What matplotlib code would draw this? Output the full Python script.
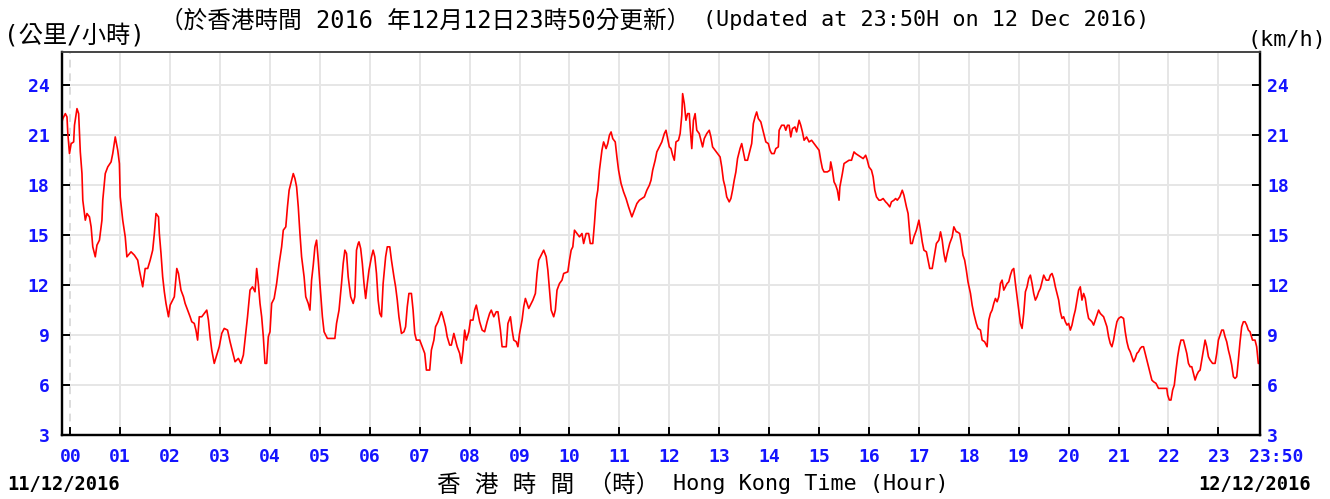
import matplotlib
matplotlib.use('Agg')
import matplotlib.pyplot as plt
import matplotlib.transforms as mtransforms

# wind speed trace, minutes after 00:00 on 12/12/2016 (km/h)
minutes = [
    -10, -9, -6, -4, -3, -1, 1, 4, 5, 8, 10, 12, 14, 15, 18, 20, 23, 25, 27, 30,
    32, 35, 38, 39, 42, 45, 49, 51, 54, 57, 59, 60, 63, 66, 68, 73, 77, 81, 83, 87,
    90, 93, 96, 99, 101, 103, 106, 107, 109, 111, 113, 115, 118, 120, 123, 125, 128, 130, 133, 136,
    138, 141, 144, 146, 149, 151, 153, 155, 158, 161, 164, 166, 168, 170, 173, 176, 179, 182, 185, 189,
    192, 195, 198, 202, 205, 208, 210, 213, 216, 219, 222, 224, 226, 228, 230, 232, 234, 236, 238, 240,
    242, 245, 248, 251, 254, 256, 259, 261, 263, 266, 268, 270, 272, 274, 276, 278, 281, 283, 286, 288,
    290, 292, 294, 296, 298, 300, 303, 305, 309, 313, 318, 320, 323, 326, 328, 330, 332, 334, 337, 340,
    342, 344, 346,
    347, 349, 351, 353, 355, 357, 359, 362, 364, 366, 368, 370, 372, 374, 376, 379, 381, 384, 386, 389,
    391, 393, 395, 398, 401, 403, 405, 407, 410, 412, 414, 416, 420, 423, 426, 428, 432, 434, 437, 439,
    442, 444, 446, 448, 451, 453, 456, 458, 461, 463, 465, 468, 470, 472, 474, 476, 479, 481, 484, 486,
    488, 490, 492, 495, 498, 501, 504, 506, 509, 512, 514, 517, 519, 524, 526, 529, 531, 533, 536, 538,
    540, 543, 545, 547, 549, 551, 553, 556, 559, 561, 563, 566, 569, 572, 574, 576, 578, 581, 583, 585,
    588, 591, 593, 598, 600, 602, 604, 606, 609, 612, 615, 617, 620, 623, 625, 628, 630, 632, 634, 636,
    639, 641, 644, 646, 648, 650, 652, 655, 657, 659, 662, 665, 668, 671, 673, 675, 678, 681, 684, 687,
    690, 693, 696, 698, 700, 703, 705,
    708, 711, 714, 716, 718, 720, 722, 724, 726, 728, 731, 733, 735, 736, 738, 740, 742, 744, 745, 747,
    749, 751, 753, 756, 758, 760, 762, 765, 768, 770, 772, 775, 778, 781, 783, 785, 787, 789, 792, 794,
    796, 798, 800, 802, 805, 807, 809, 811, 814, 816, 819, 821, 823, 825, 827, 830, 833, 836, 839, 841,
    843, 846, 848, 851, 852, 855, 858, 860, 862, 864, 866, 868, 871, 873, 876, 878, 880, 882, 885, 888,
    891, 894, 897, 900, 902, 904, 906, 910, 913, 914, 916, 918, 920, 922, 924, 925, 928, 930, 933, 936,
    939, 942, 944, 947, 950, 953, 956, 958, 960, 963, 965, 967, 969, 972, 974, 977, 980, 982, 985, 987,
    990, 992, 994, 997, 1000, 1002, 1005, 1007, 1009, 1010, 1012, 1014, 1017, 1020, 1022, 1024, 1026, 1029, 1031, 1033,
    1036, 1038, 1041, 1044, 1046, 1048, 1050, 1052, 1054, 1057, 1060, 1062, 1065,
    1066, 1069, 1071, 1073, 1075, 1077, 1079, 1082, 1084, 1086, 1089, 1091, 1094, 1096, 1099, 1102, 1103, 1104, 1106, 1108,
    1110, 1112, 1114, 1116, 1118, 1120, 1122, 1124, 1126, 1128, 1130, 1132, 1134, 1136, 1138, 1140, 1142, 1144, 1146, 1148,
    1150, 1152, 1154, 1156, 1158, 1160, 1162, 1164, 1166, 1168, 1170, 1173, 1176, 1178, 1180, 1182, 1184, 1186, 1188, 1190,
    1192, 1194, 1196, 1198, 1200, 1202, 1204, 1206, 1208, 1210, 1212, 1214, 1216, 1218, 1220, 1222, 1224, 1226, 1228, 1230,
    1232, 1234, 1236, 1238, 1240, 1242, 1244, 1246, 1248, 1250, 1252, 1254, 1256, 1258, 1260, 1263, 1266, 1268, 1270, 1272,
    1274, 1276, 1278, 1280, 1282, 1284, 1286, 1288, 1290, 1292, 1294, 1296, 1298, 1300, 1302, 1305, 1308, 1311, 1315, 1318,
    1319, 1321, 1323, 1325, 1327, 1329, 1331, 1333, 1335, 1338, 1340, 1342, 1344, 1346, 1348, 1350, 1352, 1354, 1356, 1358,
    1360, 1362, 1364, 1366, 1368, 1370, 1373, 1376, 1378, 1380, 1382, 1384, 1386, 1388, 1390, 1392, 1394, 1396, 1398, 1400,
    1402, 1404, 1406, 1408, 1410, 1412, 1414, 1416, 1418, 1421, 1424, 1426, 1428, 1430,
]
speed = [
    21.8, 22.0, 22.3, 22.1, 21.1, 19.9, 20.5, 20.6, 21.6, 22.6, 22.3, 20.0, 18.7, 17.1, 15.9, 16.3, 16.1, 15.5, 14.3, 13.7,
    14.4, 14.7, 15.9, 17.1, 18.7, 19.1, 19.4, 19.9, 20.9, 20.1, 19.3, 17.3, 15.9, 14.9, 13.7, 14.0, 13.8, 13.5, 12.9, 11.9,
    13.0, 13.0, 13.5, 14.1, 15.1, 16.3, 16.1, 15.1, 13.9, 12.5, 11.6, 10.9, 10.1, 10.8, 11.1, 11.3, 13.0, 12.7, 11.7, 11.3,
    10.9, 10.5, 10.1, 9.8, 9.7, 9.3, 8.7, 10.1, 10.1, 10.3, 10.5, 9.9, 8.9, 8.1, 7.3, 7.8, 8.3, 9.1, 9.4, 9.3,
    8.6, 8.0, 7.4, 7.6, 7.3, 7.8, 8.7, 10.1, 11.7, 11.9, 11.6, 13.0, 12.1, 10.9, 10.1, 8.9, 7.3, 7.3, 8.9, 9.2,
    10.9, 11.2, 12.1, 13.3, 14.3, 15.3, 15.5, 16.7, 17.7, 18.3, 18.7, 18.4, 17.9, 16.7, 15.1, 13.7, 12.5, 11.3, 10.9, 10.5,
    12.3, 13.2, 14.3, 14.7, 13.5, 12.1, 10.1, 9.2, 8.8, 8.8, 8.8, 9.7, 10.5, 12.1, 13.3, 14.1, 13.9, 12.5, 11.3, 10.9,
    11.3, 14.1, 14.5,
    14.6, 14.2, 13.3, 12.1, 11.2, 12.1, 12.9, 13.7, 14.1, 13.7, 12.7, 11.1, 10.3, 10.1, 12.1, 13.7, 14.3, 14.3, 13.5, 12.5,
    11.9, 11.1, 10.1, 9.1, 9.2, 9.5, 10.7, 11.5, 11.5, 10.5, 9.1, 8.7, 8.7, 8.3, 7.9, 6.9, 6.9, 8.1, 8.7, 9.5,
    9.8, 10.1, 10.4, 10.1, 9.5, 8.9, 8.4, 8.4, 9.1, 8.7, 8.3, 7.9, 7.3, 8.1, 9.3, 8.7, 9.2, 9.9, 9.9, 10.5,
    10.8, 10.3, 9.8, 9.3, 9.2, 9.8, 10.3, 10.5, 10.1, 10.4, 10.4, 9.3, 8.3, 8.3, 9.7, 10.1, 9.3, 8.7, 8.6, 8.3,
    9.1, 9.9, 10.7, 11.2, 10.9, 10.6, 10.8, 11.1, 11.5, 12.7, 13.5, 13.8, 14.1, 13.7, 12.9, 11.7, 10.5, 10.1, 10.5, 11.7,
    12.1, 12.3, 12.7, 12.8, 13.5, 14.1, 14.3, 15.3, 15.1, 14.9, 15.1, 14.5, 15.1, 15.1, 14.5, 14.5, 15.7, 17.1, 17.7, 18.9,
    20.1, 20.6, 20.2, 20.5, 21.0, 21.2, 20.8, 20.6, 19.7, 18.9, 18.1, 17.6, 17.2, 16.7, 16.4, 16.1, 16.5, 16.9, 17.1, 17.2,
    17.3, 17.7, 18.0, 18.3, 18.9, 19.5, 20.0,
    20.3, 20.6, 21.1, 21.3, 20.8, 20.3, 20.2, 19.8, 19.5, 20.6, 20.7, 21.1, 22.2, 23.5, 22.9, 21.9, 22.3, 22.3, 21.5, 20.2,
    21.9, 22.3, 21.3, 21.1, 20.7, 20.3, 20.8, 21.1, 21.3, 20.9, 20.3, 20.1, 19.9, 19.7, 19.1, 18.3, 17.9, 17.3, 17.0, 17.2,
    17.7, 18.3, 18.8, 19.6, 20.2, 20.5, 20.0, 19.5, 19.5, 19.9, 20.5, 21.7, 22.1, 22.4, 22.0, 21.8, 21.2, 20.6, 20.5, 20.1,
    19.9, 19.9, 20.2, 20.3, 21.3, 21.6, 21.6, 21.3, 21.6, 21.6, 20.9, 21.4, 21.5, 21.2, 21.9, 21.6, 21.2, 20.7, 20.9, 20.6,
    20.7, 20.5, 20.3, 20.1, 19.5, 19.0, 18.8, 18.8, 18.9, 19.4, 18.9, 18.2, 18.0, 17.7, 17.1, 17.9, 18.7, 19.3, 19.4, 19.5,
    19.5, 20.0, 19.9, 19.8, 19.7, 19.6, 19.8, 19.5, 19.1, 18.9, 18.5, 17.7, 17.3, 17.1, 17.1, 17.2, 17.0, 16.9, 16.7, 17.0,
    17.1, 17.2, 17.1, 17.3, 17.7, 17.4, 16.7, 16.3, 15.1, 14.5, 14.5, 14.9, 15.3, 15.9, 15.3, 14.6, 14.1, 14.0, 13.5, 13.0,
    13.0, 13.6, 14.5, 14.7, 15.2, 14.7, 13.9, 13.4, 13.9, 14.5, 14.9, 15.5, 15.2,
    15.2, 15.1, 14.5, 13.8, 13.5, 12.9, 12.2, 11.5, 10.8, 10.3, 9.7, 9.4, 9.3, 8.7, 8.6, 8.3, 9.1, 9.9, 10.3, 10.5,
    10.9, 11.2, 11.0, 11.3, 12.1, 12.3, 11.7, 11.9, 12.1, 12.2, 12.6, 12.9, 13.0, 12.1, 11.3, 10.5, 9.7, 9.4, 10.3, 11.6,
    11.9, 12.4, 12.6, 12.1, 11.5, 11.1, 11.3, 11.6, 11.8, 12.2, 12.6, 12.3, 12.3, 12.6, 12.7, 12.4, 11.9, 11.5, 11.1, 10.4,
    10.0, 10.1, 9.8, 9.6, 9.7, 9.3, 9.6, 10.1, 10.5, 11.1, 11.7, 11.9, 11.1, 11.5, 11.2, 10.5, 10.0, 9.9, 9.8, 9.6,
    9.9, 10.2, 10.5, 10.3, 10.2, 10.1, 9.8, 9.5, 8.9, 8.5, 8.3, 8.7, 9.3, 9.8, 10.0, 10.1, 10.0, 9.2, 8.6, 8.2,
    8.0, 7.7, 7.4, 7.6, 7.9, 8.0, 8.2, 8.3, 8.3, 7.9, 7.5, 7.1, 6.7, 6.3, 6.2, 6.1, 5.8, 5.8, 5.8, 5.8,
    5.4, 5.1, 5.1, 5.7, 6.0, 6.9, 7.7, 8.3, 8.7, 8.7, 8.3, 7.9, 7.3, 7.1, 7.1, 6.7, 6.3, 6.6, 6.8, 6.9,
    7.5, 8.1, 8.7, 8.3, 7.7, 7.5, 7.3, 7.3, 7.9, 8.7, 9.0, 9.3, 9.3, 8.9, 8.6, 8.1, 7.7, 7.2, 6.5, 6.4,
    6.5, 7.5, 8.6, 9.5, 9.8, 9.8, 9.6, 9.3, 9.2, 8.7, 8.7, 8.3, 7.3, 7.3,
]

hour_ticks = list(range(0, 24 * 60, 60)) + [1430]
hour_labels = ['%02d' % h for h in range(24)] + ['23:50']
speed_ticks = [3, 6, 9, 12, 15, 18, 21, 24]

blue = '#1414ff'
mono = ['DejaVu Sans Mono', 'Noto Sans CJK TC']

fig = plt.figure(figsize=(13.3, 4.99), dpi=100)
ax = fig.add_axes([62 / 1330, 1 - 435 / 499, 1198 / 1330, 383 / 499])

ax.set_xlim(-10, 1430)
ax.set_ylim(3, 26)

# grid
for m in hour_ticks[1:-1]:
    ax.axvline(m, color='#e6e6e6', lw=1.4, zorder=0)
ax.axvline(0, color='#dcdcdc', lw=1.4, ls=(0, (4, 3)), zorder=0)
for s in speed_ticks[1:]:
    ax.axhline(s, color='#e6e6e6', lw=1.4, zorder=0)

ax.plot(minutes, speed, color='#ff0000', lw=1.2, zorder=3)

ax.set_xticks(hour_ticks)
ax.set_xticklabels(hour_labels)
ax.set_yticks(speed_ticks)
ax.tick_params(axis='x', direction='in', length=6, width=1.4, pad=9,
               labelsize=13, labelcolor=blue)
ax.tick_params(axis='y', direction='in', length=6, width=1.4, pad=9,
               labelsize=13, labelcolor=blue)
for lab in ax.get_xticklabels() + ax.get_yticklabels():
    lab.set_fontfamily('DejaVu Sans Mono')
    lab.set_fontweight('bold')
# last label sits to the right of its tick
last = ax.get_xticklabels()[-1]
last.set_transform(last.get_transform() +
                   mtransforms.ScaledTranslation(0.16, 0, fig.dpi_scale_trans))

ax2 = ax.twinx()
ax2.set_ylim(3, 26)
ax2.set_yticks(speed_ticks)
ax2.tick_params(axis='y', direction='in', length=6, width=1.4, pad=5,
                labelsize=13, labelcolor=blue)
for lab in ax2.get_yticklabels():
    lab.set_fontfamily('DejaVu Sans Mono')
    lab.set_fontweight('bold')

for a in (ax, ax2):
    for side in ('left', 'right', 'bottom'):
        a.spines[side].set_linewidth(1.6)
        a.spines[side].set_color('black')
    a.spines['top'].set_linewidth(1.2)
    a.spines['top'].set_color('#444444')

# texts
fig.text(160 / 1330, 1 - 21 / 499, '（於香港時間 2016 年12月12日23時50分更新）',
         family=mono, fontsize=17, va='center', ha='left')
fig.text(703 / 1330, 1 - 20 / 499, '(Updated at 23:50H on 12 Dec 2016)',
         family=mono, fontsize=15.7, va='center', ha='left')
fig.text(4 / 1330, 1 - 36 / 499, '(公里/小時)', family=mono, fontsize=17.5,
         va='center', ha='left')
fig.text(1326 / 1330, 1 - 40 / 499, '(km/h)', family=mono, fontsize=15.7,
         va='center', ha='right')
fig.text(437 / 1330, 1 - 485 / 499, '香 港 時 間 （時）',
         family=mono, fontsize=17, va='center', ha='left')
fig.text(673 / 1330, 1 - 484 / 499, 'Hong Kong Time (Hour)',
         family=mono, fontsize=15.7, va='center', ha='left')
fig.text(7 / 1330, 1 - 485 / 499, '11/12/2016', family='DejaVu Sans Mono',
         fontweight='bold', fontsize=13.5, va='center', ha='left')
fig.text(1311 / 1330, 1 - 485 / 499, '12/12/2016', family='DejaVu Sans Mono',
         fontweight='bold', fontsize=13.5, va='center', ha='right')

fig.savefig('out.png', dpi=100)
